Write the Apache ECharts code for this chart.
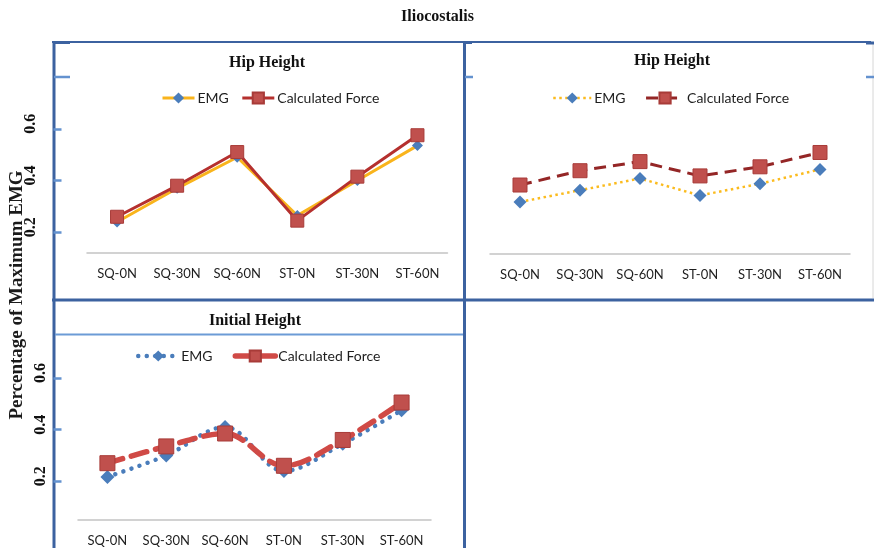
<!DOCTYPE html>
<html>
<head>
<meta charset="utf-8">
<script src="https://cdn.jsdelivr.net/npm/echarts@6/dist/echarts.min.js"></script>
<style>
  html, body { margin: 0; padding: 0; background: #fff; }
  #chart { width: 874px; height: 548px; }
</style>
</head>
<body>
<div id="chart"></div>
<script>
// Exercise conditions shown on every category axis
const categories = ['SQ-0N', 'SQ-30N', 'SQ-60N', 'ST-0N', 'ST-30N', 'ST-60N'];

// Hip height, solid-line panel
const hipEmgSolid   = [0.24, 0.37, 0.49, 0.265, 0.40, 0.535];
const hipForceSolid = [0.26, 0.38, 0.51, 0.245, 0.415, 0.575];

// Hip height, dotted/dashed panel
const hipEmgDotted  = [0.32, 0.365, 0.41, 0.345, 0.39, 0.445];
const hipForceDashed = [0.385, 0.44, 0.475, 0.42, 0.455, 0.51];

// Initial height panel
const initEmg   = [0.217, 0.30, 0.41, 0.24, 0.345, 0.475];
const initForce = [0.27, 0.335, 0.385, 0.26, 0.36, 0.505];

// Value-axis labels and tick positions
const tickValues = [0.2, 0.4, 0.6];

const BORDER = '#3c62a0';
const TICK = '#6492cf';
const SERIF = '"Liberation Serif", "DejaVu Serif", serif';
const SANS = 'Lato, "Open Sans", sans-serif';

// Line styles per panel, shared by series and their legend entries
const styles = {
  emgA:   { color: '#f9b41c', width: 3 },
  forceA: { color: '#b5302e', width: 3 },
  emgB:   { color: '#fbbb1e', width: 2.5, type: [2.5, 3.5] },
  forceB: { color: '#942626', width: 3, type: [12, 7] },
  emgC:   { color: '#4a7dbb', width: 4.5, type: [0.01, 8.5], cap: 'round' },
  forceC: { color: '#d04a46', width: 5.5, type: [16, 9], cap: 'round' }
};

const chart = echarts.init(document.getElementById('chart'), null, { renderer: 'canvas' });

function catAxis(gridIndex) {
  return {
    type: 'category', gridIndex, data: categories, boundaryGap: true,
    axisLine: { show: true, lineStyle: { color: '#c4c4c4', width: 1.5 } },
    axisTick: { show: false },
    axisLabel: { interval: 0, hideOverlap: false, color: '#1e1e1e', fontFamily: SANS, fontSize: 13, margin: 14 }
  };
}

function valAxis(gridIndex, min, max, offset, labelMargin, showTicks) {
  return {
    type: 'value', gridIndex, min, max, position: 'left', offset,
    axisLine: { show: false },
    splitLine: { show: false },
    axisTick: {
      show: showTicks, inside: true, length: 8,
      customValues: tickValues,
      lineStyle: { color: TICK, width: 2.5 }
    },
    axisLabel: {
      show: showTicks, customValues: tickValues, rotate: 90, margin: labelMargin,
      formatter: v => v.toFixed(1),
      fontFamily: SERIF, fontWeight: 'bold', fontSize: 16, color: '#111',
      padding: [0, 0, 0, 10]
    }
  };
}

function legend(left, top, items, itemWidth, itemGap) {
  return {
    left, top, padding: 0, itemGap, itemWidth, itemHeight: 14,
    data: items.map(([name, ls]) => ({ name, lineStyle: Object.assign({}, ls) })),
    formatter: n => n.split('#')[0],
    textStyle: { fontFamily: SANS, fontSize: 14, color: '#1e1e1e', padding: [0, 0, 0, -2] },
    selectedMode: false
  };
}

const option = {
  animation: false,
  backgroundColor: '#fff',
  grid: [
    { left: 87, top: 77, width: 360.5, height: 176 },
    { left: 490, top: 77, width: 360, height: 177 },
    { left: 78, top: 378, width: 353, height: 142 }
  ],
  xAxis: [catAxis(0), catAxis(1), catAxis(2)],
  yAxis: [
    valAxis(0, 0.12, 0.8, 33.5, 14.5, true),
    valAxis(1, 0.12, 0.8, 25, 10, false),
    valAxis(2, 0.05, 0.6, 24.5, 5, true)
  ],
  legend: [
    legend(161, 91, [['EMG#a', styles.emgA], ['Calculated Force#a', styles.forceA]], 32, 12),
    legend(552, 91, [['EMG#b', styles.emgB], ['Calculated Force#b', styles.forceB]], 38, 19),
    legend(136, 349, [['EMG#c', styles.emgC], ['Calculated Force#c', styles.forceC]], 40, 20)
  ],
  series: [
    {
      name: 'EMG#a', type: 'line', xAxisIndex: 0, yAxisIndex: 0, data: hipEmgSolid,
      symbol: 'diamond', symbolSize: 11,
      lineStyle: styles.emgA,
      itemStyle: { color: '#4a7dbb' }
    },
    {
      name: 'Calculated Force#a', type: 'line', xAxisIndex: 0, yAxisIndex: 0, data: hipForceSolid,
      symbol: 'rect', symbolSize: 13,
      lineStyle: styles.forceA,
      itemStyle: { color: '#c0504d', borderColor: '#a83b38', borderWidth: 1 }
    },
    {
      name: 'EMG#b', type: 'line', xAxisIndex: 1, yAxisIndex: 1, data: hipEmgDotted,
      symbol: 'diamond', symbolSize: 13,
      lineStyle: styles.emgB,
      itemStyle: { color: '#4a7dbb' }
    },
    {
      name: 'Calculated Force#b', type: 'line', xAxisIndex: 1, yAxisIndex: 1, data: hipForceDashed,
      symbol: 'rect', symbolSize: 14,
      lineStyle: styles.forceB,
      itemStyle: { color: '#c0504d', borderColor: '#a83b38', borderWidth: 1 }
    },
    {
      name: 'EMG#c', type: 'line', xAxisIndex: 2, yAxisIndex: 2, data: initEmg,
      symbol: 'diamond', symbolSize: 14, smooth: 0.35,
      lineStyle: styles.emgC,
      itemStyle: { color: '#4a7dbb' }
    },
    {
      name: 'Calculated Force#c', type: 'line', xAxisIndex: 2, yAxisIndex: 2, data: initForce,
      symbol: 'rect', symbolSize: 15, smooth: 0.35,
      lineStyle: styles.forceC,
      itemStyle: { color: '#c0504d', borderColor: '#a83b38', borderWidth: 1 }
    }
  ],
  graphic: [
    // panel frame
    { type: 'line', shape: { x1: 52, y1: 42, x2: 871, y2: 42 }, style: { stroke: BORDER, lineWidth: 2 } },
    { type: 'line', shape: { x1: 54, y1: 41, x2: 54, y2: 548 }, style: { stroke: BORDER, lineWidth: 3 } },
    { type: 'line', shape: { x1: 464.5, y1: 41, x2: 464.5, y2: 548 }, style: { stroke: BORDER, lineWidth: 3 } },
    { type: 'line', shape: { x1: 52, y1: 300, x2: 874, y2: 300 }, style: { stroke: BORDER, lineWidth: 3 } },
    { type: 'line', shape: { x1: 55, y1: 334.5, x2: 463, y2: 334.5 }, style: { stroke: '#6c9bd6', lineWidth: 2 } },
    { type: 'line', shape: { x1: 873, y1: 44, x2: 873, y2: 298 }, style: { stroke: '#d6d6d6', lineWidth: 1 } },
    // short frame ticks
    { type: 'line', shape: { x1: 54, y1: 42.5, x2: 70, y2: 42.5 }, style: { stroke: BORDER, lineWidth: 3 } },
    { type: 'line', shape: { x1: 54, y1: 77, x2: 70, y2: 77 }, style: { stroke: TICK, lineWidth: 2.5 } },
    { type: 'line', shape: { x1: 465, y1: 42.5, x2: 472, y2: 42.5 }, style: { stroke: BORDER, lineWidth: 3 } },
    { type: 'line', shape: { x1: 465, y1: 77, x2: 473, y2: 77 }, style: { stroke: TICK, lineWidth: 2.5 } },
    { type: 'line', shape: { x1: 866, y1: 43, x2: 874, y2: 43 }, style: { stroke: BORDER, lineWidth: 3 } },
    { type: 'line', shape: { x1: 866, y1: 77, x2: 874, y2: 77 }, style: { stroke: TICK, lineWidth: 2.5 } },
    // titles
    { type: 'text', x: 437.5, y: 16.5, style: { text: 'Iliocostalis', font: 'bold 16px ' + SERIF, fill: '#111', align: 'center', verticalAlign: 'middle' } },
    { type: 'text', x: 267, y: 63, style: { text: 'Hip Height', font: 'bold 16px ' + SERIF, fill: '#111', align: 'center', verticalAlign: 'middle' } },
    { type: 'text', x: 672, y: 61, style: { text: 'Hip Height', font: 'bold 16px ' + SERIF, fill: '#111', align: 'center', verticalAlign: 'middle' } },
    { type: 'text', x: 255, y: 321, style: { text: 'Initial Height', font: 'bold 16px ' + SERIF, fill: '#111', align: 'center', verticalAlign: 'middle' } },
    {
      type: 'text', x: 17, y: 295, rotation: Math.PI / 2,
      style: { text: 'Percentage of Maximum EMG', font: 'bold 19px ' + SERIF, fill: '#1a1a1a', align: 'center', verticalAlign: 'middle' }
    }
  ]
};

chart.setOption(option);
</script>
</body>
</html>
